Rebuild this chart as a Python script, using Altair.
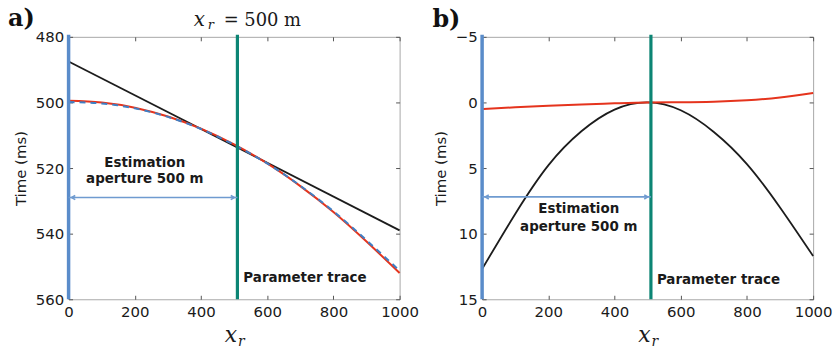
import altair as alt
import pandas as pd

W, H = 333, 264

# ---------------- data ----------------
x_grid = [0, 100, 200, 300, 400, 500, 600, 700, 800, 900, 1000]
a_black_x = [0, 1000]
a_black_t = [487.5, 539.0]
a_red_t = [499.5, 500.0, 501.6, 504.3, 508.0, 512.8, 518.6, 525.5, 533.4, 542.4, 552.0]
a_blue_t = [499.9, 500.3, 501.8, 504.4, 508.1, 512.9, 518.6, 525.4, 533.2, 542.0, 551.3]
b_red_t = [0.5, 0.37, 0.25, 0.15, 0.07, 0.0, -0.02, -0.06, -0.17, -0.38, -0.72]
b_black_t = [12.7, 8.5, 4.8, 2.2, 0.55, 0.0, 0.6, 2.25, 4.7, 8.0, 11.7]

x_ticks = [0, 200, 400, 600, 800, 1000]
a_y_ticks = [480, 500, 520, 540, 560]
b_y_ticks = [-5, 0, 5, 10, 15]
a_domain = [480, 560]
b_domain = [-5, 15]

aperture_start_x = 0
parameter_trace_x = 510
a_arrow_t = 529
b_arrow_t = 7.2

# annotation anchor points (data coordinates)
a_est_pos = (230, 518.5, 523.4)
b_est_pos = (292, 8.1, 9.5)
a_param_pos = (528, 553.6)
b_param_pos = (528, 13.5)

BLUE = "#5a8cca"
GREEN = "#0c8574"
RED = "#e5341d"
BLACK = "#1c1c1c"
ARROW = "#6f9bd0"
TICK = "#555555"
LABEL = "#1a1a1a"

xs = alt.Scale(domain=[0, 1000], nice=False, zero=False)


def ys(dom):
    return alt.Scale(domain=dom, reverse=True, nice=False, zero=False)


def axis_layers(df, dom, yticks):
    base = alt.Chart(df)
    main = base.mark_line(opacity=0).encode(
        x=alt.X("x:Q", scale=xs, axis=alt.Axis(
            values=x_ticks, title=None, ticks=False, domain=False, grid=False,
            format="d", labelPadding=5, labelFontSize=15, labelFont="DejaVu Sans",
            labelColor=LABEL, labelFlush=False, labelOverlap=False)),
        y=alt.Y("t:Q", scale=ys(dom), axis=alt.Axis(
            values=yticks, title="Time (ms)", ticks=False, domain=False, grid=False,
            format="d", labelPadding=5, labelFontSize=15, labelFont="DejaVu Sans",
            labelColor=LABEL, labelOverlap=False, titleFont="DejaVu Sans",
            titleFontSize=15, titleFontWeight="normal", titleColor=LABEL,
            titlePadding=7)),
    )
    inner1 = base.mark_line(opacity=0).encode(
        x=alt.X("x:Q", scale=xs, axis=alt.Axis(
            values=x_ticks, orient="top", offset=-H, labels=False, title=None,
            domain=False, grid=False, ticks=True, tickSize=4, tickWidth=1,
            tickColor=TICK)),
        y=alt.Y("t:Q", scale=ys(dom), axis=alt.Axis(
            values=yticks, orient="right", offset=-W, labels=False, title=None,
            domain=False, grid=False, ticks=True, tickSize=4, tickWidth=1,
            tickColor=TICK)),
    )
    inner2 = base.mark_line(opacity=0).encode(
        x=alt.X("x:Q", scale=xs, axis=alt.Axis(
            values=x_ticks, orient="bottom", offset=-H, labels=False, title=None,
            domain=False, grid=False, ticks=True, tickSize=4, tickWidth=1,
            tickColor=TICK)),
        y=alt.Y("t:Q", scale=ys(dom), axis=alt.Axis(
            values=yticks, orient="left", offset=-W, labels=False, title=None,
            domain=False, grid=False, ticks=True, tickSize=4, tickWidth=1,
            tickColor=TICK)),
    )
    return [main, inner1, inner2]


def series(df, dom, color, dash=None, width=2.0):
    kw = dict(color=color, strokeWidth=width, interpolate="natural")
    if dash:
        kw["strokeDash"] = dash
    return alt.Chart(df).mark_line(**kw).encode(
        x=alt.X("x:Q", scale=xs, axis=None),
        y=alt.Y("t:Q", scale=ys(dom), axis=None),
    )


def guides(dom, arrow_t, est_pos, param_pos):
    vdf = pd.DataFrame({"x": [aperture_start_x, parameter_trace_x],
                        "c": ["start", "trace"]})
    blue_rule = alt.Chart(vdf.iloc[[0]]).mark_rule(color=BLUE, strokeWidth=3.5).encode(
        x=alt.X("x:Q", scale=xs, axis=None), y=alt.value(-2), y2=alt.value(H))
    green_rule = alt.Chart(vdf.iloc[[1]]).mark_rule(color=GREEN, strokeWidth=3.2).encode(
        x=alt.X("x:Q", scale=xs, axis=None), y=alt.value(-2), y2=alt.value(H))
    adf = pd.DataFrame({"x0": [aperture_start_x], "x1": [parameter_trace_x], "t": [arrow_t]})
    arrow = alt.Chart(adf).mark_rule(color=ARROW, strokeWidth=1.6).encode(
        x=alt.X("x0:Q", scale=xs, axis=None), x2="x1:Q",
        y=alt.Y("t:Q", scale=ys(dom), axis=None))
    hl = alt.Chart(adf).mark_point(
        shape="M0,0L1,-0.55M0,0L1,0.55", filled=False, color=ARROW, strokeWidth=1.6,
        size=55, opacity=1, xOffset=3).encode(
        x=alt.X("x0:Q", scale=xs, axis=None), y=alt.Y("t:Q", scale=ys(dom), axis=None))
    hr = alt.Chart(adf).mark_point(
        shape="M0,0L-1,-0.55M0,0L-1,0.55", filled=False, color=ARROW, strokeWidth=1.6,
        size=55, opacity=1, xOffset=-3).encode(
        x=alt.X("x1:Q", scale=xs, axis=None), y=alt.Y("t:Q", scale=ys(dom), axis=None))
    tdf = pd.DataFrame({
        "x": [est_pos[0], est_pos[0], param_pos[0]],
        "t": [est_pos[1], est_pos[2], param_pos[1]],
        "label": ["Estimation", "aperture 500 m", "Parameter trace"],
    })
    est = alt.Chart(tdf.iloc[:2]).mark_text(
        font="DejaVu Sans", fontWeight="bold", fontSize=13.5, color=LABEL,
        align="center", baseline="middle").encode(
        x=alt.X("x:Q", scale=xs, axis=None), y=alt.Y("t:Q", scale=ys(dom), axis=None),
        text="label:N")
    par = alt.Chart(tdf.iloc[2:]).mark_text(
        font="DejaVu Sans", fontWeight="bold", fontSize=13.5, color=LABEL,
        align="left", baseline="middle").encode(
        x=alt.X("x:Q", scale=xs, axis=None), y=alt.Y("t:Q", scale=ys(dom), axis=None),
        text="label:N")
    return [blue_rule, green_rule, arrow, hl, hr, est, par]


def label_text(txt, x, y, **kw):
    return alt.Chart(pd.DataFrame({"s": [txt]})).mark_text(**kw).encode(
        text="s:N", x=alt.value(x), y=alt.value(y))


def xr_title():
    return [
        label_text("x", W / 2 + 3, H + 43, font="DejaVu Serif", fontStyle="italic",
                   fontSize=22, align="right", baseline="alphabetic", color=LABEL),
        label_text("r", W / 2 + 4, H + 47, font="DejaVu Serif", fontStyle="italic",
                   fontSize=14, align="left", baseline="alphabetic", color=LABEL),
    ]


# ---------------- panel a ----------------
a_df_red = pd.DataFrame({"x": x_grid, "t": a_red_t})
a_df_blue = pd.DataFrame({"x": x_grid, "t": a_blue_t})
a_df_black = pd.DataFrame({"x": a_black_x, "t": a_black_t})

pa_layers = (
    axis_layers(a_df_red, a_domain, a_y_ticks)
    + [series(a_df_black, a_domain, BLACK, width=1.8),
       series(a_df_red, a_domain, RED, width=2.0),
       series(a_df_blue, a_domain, "#3f7fc4", dash=[6, 5], width=2.0)]
    + guides(a_domain, a_arrow_t, a_est_pos, a_param_pos)
    + xr_title()
    + [label_text("a)", -61, -11, font="DejaVu Serif", fontWeight="bold",
                  fontSize=24, align="left", baseline="alphabetic", color="#111"),
       label_text("x", 126, -11, font="DejaVu Serif", fontStyle="italic",
                  fontSize=20, align="left", baseline="alphabetic", color=LABEL),
       label_text("r", 140, -8, font="DejaVu Serif", fontStyle="italic",
                  fontSize=13, align="left", baseline="alphabetic", color=LABEL),
       label_text("= 500 m", 156, -11, font="DejaVu Serif",
                  fontSize=18, align="left", baseline="alphabetic", color=LABEL)]
)
pa = alt.layer(*pa_layers).resolve_axis(x="independent", y="independent").properties(
    width=W, height=H)

# ---------------- panel b ----------------
b_df_red = pd.DataFrame({"x": x_grid, "t": b_red_t})
b_df_black = pd.DataFrame({"x": x_grid, "t": b_black_t})

pb_layers = (
    axis_layers(b_df_black, b_domain, b_y_ticks)
    + [series(b_df_black, b_domain, BLACK, width=1.8),
       series(b_df_red, b_domain, RED, width=2.0)]
    + guides(b_domain, b_arrow_t, b_est_pos, b_param_pos)
    + xr_title()
    + [label_text("b)", -50, -10, font="DejaVu Serif", fontWeight="bold",
                  fontSize=24, align="left", baseline="alphabetic", color="#111")]
)
pb = alt.layer(*pb_layers).resolve_axis(x="independent", y="independent").properties(
    width=W, height=H)

chart = alt.hconcat(pa, pb, spacing=12).properties(
    padding={"left": 7, "top": 5, "right": 0, "bottom": 0},
    background="white",
).configure_view(stroke="#a8a8a8", strokeWidth=1)

chart.save("out.html", embed_options={"renderer": "svg", "actions": False})
